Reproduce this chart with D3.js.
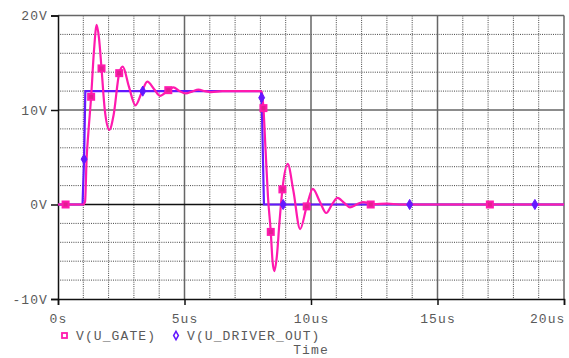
<!DOCTYPE html>
<html>
<head>
<meta charset="utf-8">
<script src="https://cdn.jsdelivr.net/npm/d3@7"></script>
<style>
  body { margin: 0; background: #fff; }
  text { font-family: "Liberation Mono", "DejaVu Sans Mono", monospace; font-size: 13px; fill: #5a5a5a; letter-spacing: 1.1px; }
</style>
</head>
<body>
<script>
// gate voltage (us, V)
const gateT = [0, 1.0, 1.07, 1.13, 1.2, 1.31, 1.42, 1.53, 1.62, 1.72, 1.85, 2.03, 2.2, 2.42, 2.56, 2.8, 3.06, 3.3, 3.53, 3.8, 4.03, 4.36, 4.56, 4.8, 5.05, 5.3, 5.55, 5.8, 6.05, 6.5, 8.0,
               8.05, 8.12, 8.2, 8.3, 8.41, 8.48, 8.55, 8.65, 8.75, 8.87, 9.08, 9.3, 9.57, 9.83, 10.07, 10.35, 10.6, 10.85, 11.05, 11.3, 11.54, 11.8, 12.05, 12.5, 13.0, 13.5, 20];
const gateV = [0, 0, 0.3, 4.8, 7.6, 11.4, 16.2, 19.0, 17.6, 14.4, 10.0, 7.9, 9.5, 13.9, 14.6, 12.5, 10.5, 11.8, 13.0, 12.2, 11.5, 12.1, 12.4, 12.0, 11.75, 11.95, 12.15, 12.0, 11.9, 12.0, 12.0,
               11.9, 10.2, 6.0, 0.8, -2.9, -6.0, -7.05, -5.5, -2.0, 1.6, 4.3, 1.5, -2.6, -0.2, 1.65, 0.3, -0.9, 0.1, 0.7, 0.2, -0.3, 0.0, 0.25, 0.05, 0.1, 0.0, 0.0];
// marker positions on the gate trace
const gateMarkT = [0.3, 1.31, 1.72, 2.42, 4.36, 8.12, 8.41, 8.87, 9.83, 12.36, 17.07];
const gateMarkV = [0, 11.4, 14.4, 13.9, 12.1, 10.2, -2.9, 1.6, -0.2, 0, 0];

// driver output
const drvT = [0, 0.97, 1.03, 1.08, 8.02, 8.05, 8.14, 20];
const drvV = [0, 0, 4.8, 12, 12, 11.3, 0, 0];
const drvMarkT = [1.03, 3.35, 8.05, 8.9, 13.9, 18.85];
const drvMarkV = [4.8, 12, 11.3, 0, 0, 0];

const xTicks = [0, 5, 10, 15, 20];
const xTickLabels = ["0s", "5us", "10us", "15us", "20us"];
const yTicks = [-10, 0, 10, 20];
const yTickLabels = ["-10V", "0V", "10V", "20V"];

const pink = "#ff1aae", blue = "#6418ff";
const width = 569, height = 358;
const svg = d3.select("body").append("svg").attr("width", width).attr("height", height);

const x = d3.scaleLinear().domain([0, 20]).range([58, 564]);
const y = d3.scaleLinear().domain([-10, 20]).range([299, 15.5]);

// dotted minor grid
const grid = svg.append("g");
grid.selectAll(".vx").data(d3.range(1, 20).filter(d => d % 5)).enter().append("line")
  .attr("x1", d => x(d)).attr("x2", d => x(d)).attr("y1", y(20)).attr("y2", y(-10))
  .attr("stroke", "#444").attr("stroke-dasharray", "1,1.2");
grid.selectAll(".hy").data(d3.range(-8, 20, 2).filter(d => d % 10)).enter().append("line")
  .attr("x1", x(0)).attr("x2", x(20)).attr("y1", d => y(d)).attr("y2", d => y(d))
  .attr("stroke", "#444").attr("stroke-dasharray", "1,1.2");

// major grid
grid.selectAll(".mx").data([5, 10, 15]).enter().append("line")
  .attr("x1", d => x(d)).attr("x2", d => x(d)).attr("y1", y(20)).attr("y2", y(-10))
  .attr("stroke", "#666").attr("stroke-width", 1.5);
grid.append("line").attr("x1", x(0)).attr("x2", x(20)).attr("y1", y(10)).attr("y2", y(10))
  .attr("stroke", "#666").attr("stroke-width", 1.5);
grid.append("line").attr("x1", x(0)).attr("x2", x(20)).attr("y1", y(0)).attr("y2", y(0))
  .attr("stroke", "#111").attr("stroke-width", 1.5);
grid.append("line").attr("x1", x(0)).attr("x2", x(20)).attr("y1", y(20)).attr("y2", y(20))
  .attr("stroke", "#666").attr("stroke-width", 1.5);
grid.append("line").attr("x1", x(20)).attr("x2", x(20)).attr("y1", y(20)).attr("y2", y(-10))
  .attr("stroke", "#666").attr("stroke-width", 1.5);

// axes
const xAxis = d3.axisBottom(x).tickValues(xTicks).tickSize(6).tickFormat((d, i) => xTickLabels[i]).tickPadding(9);
const yAxis = d3.axisLeft(y).tickValues(yTicks).tickSize(7).tickFormat((d, i) => yTickLabels[i]).tickPadding(3);
const gx = svg.append("g").attr("transform", `translate(0,${y(-10)})`).call(xAxis);
const gy = svg.append("g").attr("transform", `translate(${x(0)},0)`).call(yAxis);
[gx, gy].forEach(g => {
  g.select(".domain").attr("stroke", "#111").attr("stroke-width", 1.5);
  g.selectAll(".tick line").attr("stroke", "#111").attr("stroke-width", 1.5);
  g.selectAll("text").attr("font-family", null).attr("font-size", null).attr("fill", null);
});
// last time label is pulled inside the window
gx.selectAll(".tick text").filter(d => d === 20).attr("text-anchor", "end").attr("x", 1);

// traces
const gateData = gateT.map((t, i) => [t, gateV[i]]);
const drvData = drvT.map((t, i) => [t, drvV[i]]);
svg.append("path").datum(drvData)
  .attr("d", d3.line().x(d => x(d[0])).y(d => y(d[1])))
  .attr("fill", "none").attr("stroke", blue).attr("stroke-width", 2.2);
svg.append("path").datum(gateData)
  .attr("d", d3.line().x(d => x(d[0])).y(d => y(d[1])).curve(d3.curveMonotoneX))
  .attr("fill", "none").attr("stroke", pink).attr("stroke-width", 2.2);

// markers
svg.selectAll(".gm").data(gateMarkT.map((t, i) => [t, gateMarkV[i]])).enter().append("rect")
  .attr("x", d => x(d[0]) - 3).attr("y", d => y(d[1]) - 3).attr("width", 6).attr("height", 6)
  .attr("fill", "#e0208f").attr("stroke", pink).attr("stroke-width", 2);
const diamond = d3.symbol().type(d3.symbolDiamond).size(30);
svg.selectAll(".dm").data(drvMarkT.map((t, i) => [t, drvMarkV[i]])).enter().append("path")
  .attr("d", diamond).attr("transform", d => `translate(${x(d[0])},${y(d[1])})`)
  .attr("fill", blue).attr("stroke", blue).attr("stroke-width", 1);

// legend
const leg = svg.append("g");
leg.append("rect").attr("x", 62).attr("y", 333).attr("width", 5).attr("height", 5)
  .attr("fill", "#fff").attr("stroke", pink).attr("stroke-width", 1.8);
leg.append("text").attr("x", 76).attr("y", 340).text("V(U_GATE)");
leg.append("path").attr("d", d3.symbol().type(d3.symbolDiamond).size(20))
  .attr("transform", "translate(176,335.5)").attr("fill", "#fff").attr("stroke", blue).attr("stroke-width", 1.5);
leg.append("text").attr("x", 187).attr("y", 340).text("V(U_DRIVER_OUT)");
svg.append("text").attr("x", 311).attr("y", 354).attr("text-anchor", "middle").text("Time");
</script>
</body>
</html>
